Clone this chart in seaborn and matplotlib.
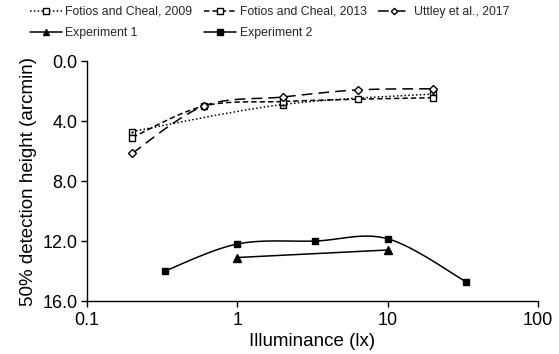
import numpy as np
import matplotlib
matplotlib.use("Agg")
import matplotlib.pyplot as plt
from matplotlib.lines import Line2D
import seaborn as sns

# ---- data ----
fc2009_x = [0.2, 2, 20]
fc2009_y = [4.7, 2.9, 2.2]
fc2013_x = [0.2, 0.6, 2, 6.3, 20]
fc2013_y = [5.1, 3.0, 2.7, 2.55, 2.45]
utt_x = [0.2, 0.6, 2, 6.3, 20]
utt_y = [6.15, 3.0, 2.4, 1.93, 1.85]
exp1_x = [1, 10]
exp1_y = [13.1, 12.6]
exp2_x = [0.33, 1, 3.3, 10, 33]
exp2_y = [14.0, 12.2, 12.0, 11.85, 14.7]

labels = ["Fotios and Cheal, 2009", "Fotios and Cheal, 2013", "Uttley et al., 2017",
          "Experiment 1", "Experiment 2"]

sns.set_style("ticks")
plt.rcParams['font.family'] = ['Liberation Sans', 'DejaVu Sans']


def smooth(x, y, n=24):
    """Excel-like smoothed line (Catmull-Rom Bezier) in log-x space."""
    lx = np.log10(np.asarray(x, float))
    yy = np.asarray(y, float)
    P = np.column_stack([lx, yy])
    m = len(P)
    out = [P[0]]
    t = np.linspace(0, 1, n)[1:]
    for i in range(m - 1):
        p0 = P[i - 1] if i > 0 else P[i]
        p1, p2 = P[i], P[i + 1]
        p3 = P[i + 2] if i + 2 < m else P[i + 1]
        b1 = p1 + (p2 - p0) / 6.0
        b2 = p2 - (p3 - p1) / 6.0
        for tt in t:
            pt = ((1 - tt) ** 3) * p1 + 3 * ((1 - tt) ** 2) * tt * b1 + 3 * (1 - tt) * tt ** 2 * b2 + tt ** 3 * p2
            out.append(pt)
    out = np.array(out)
    return 10 ** out[:, 0], out[:, 1]


fig = plt.figure(figsize=(5.59, 3.54), dpi=100)
ax = fig.add_axes([87 / 559, 1 - 301 / 354, (538 - 87) / 559, (301 - 61) / 354])

lw = 1.1
series = [
    (fc2009_x, fc2009_y, (0, (1, 1.5)), 's', 'white', True, 4.5),
    (fc2013_x, fc2013_y, (0, (3.5, 2)), 's', 'white', True, 4.5),
    (utt_x, utt_y, (0, (7, 4)), 'D', 'white', True, 3.8),
    (exp1_x, exp1_y, '-', '^', 'black', False, 5.5),
    (exp2_x, exp2_y, '-', 's', 'black', True, 4.5),
]
handles = []
for (xs, ys, ls, mk, mfc, sm, ms), lab in zip(series, labels):
    if sm:
        sx, sy = smooth(xs, ys)
    else:
        sx, sy = np.asarray(xs, float), np.asarray(ys, float)
    sns.lineplot(x=sx, y=sy, ax=ax, sort=False, estimator=None, color='black',
                 linewidth=lw, linestyle=ls)
    ax.plot(xs, ys, linestyle='none', marker=mk, markersize=ms,
            markerfacecolor=mfc, markeredgecolor='black', markeredgewidth=1.0, zorder=5)
    if lab == "Fotios and Cheal, 2009":
        ax.plot(xs, ys, linestyle='none', marker='.', markersize=1.5, color='black', zorder=6)
    handles.append(Line2D([0], [0], color='black', linewidth=lw, linestyle=ls, marker=mk,
                          markersize=ms * 0.85, markerfacecolor=mfc, markeredgecolor='black',
                          markeredgewidth=1.0))

ax.set_xscale('log')
ax.set_xlim(0.1, 100)
ax.set_ylim(16, 0)
ax.set_yticks([0, 4, 8, 12, 16])
ax.set_yticklabels(["0.0", "4.0", "8.0", "12.0", "16.0"])
ax.set_xticks([0.1, 1, 10, 100])
ax.set_xticklabels(["0.1", "1", "10", "100"])
ax.minorticks_off()
ax.xaxis.set_minor_locator(matplotlib.ticker.NullLocator())
ax.tick_params(axis='both', direction='out', length=4, width=1, color='black',
               labelsize=13, labelcolor='black')
ax.tick_params(axis='x', pad=4)
ax.tick_params(axis='y', pad=3)
for s in ['top', 'right']:
    ax.spines[s].set_visible(False)
for s in ['left', 'bottom']:
    ax.spines[s].set_color('black')
    ax.spines[s].set_linewidth(1.0)

ax.set_xlabel("Illuminance (lx)", fontsize=13.5, labelpad=3, color='black')
ax.set_ylabel("50% detection height (arcmin)", fontsize=13.5, labelpad=4, color='black')

order = [0, 3, 1, 4, 2]
fig.legend([handles[i] for i in order], [labels[i] for i in order],
           ncol=3, loc='upper left', bbox_to_anchor=(30 / 559, 1 - 6 / 354),
           frameon=False, fontsize=8.8, handlelength=2.6, handletextpad=0.3,
           columnspacing=0.95, labelspacing=0.75, borderaxespad=0, borderpad=0)

fig.savefig("out.png", dpi=100)
